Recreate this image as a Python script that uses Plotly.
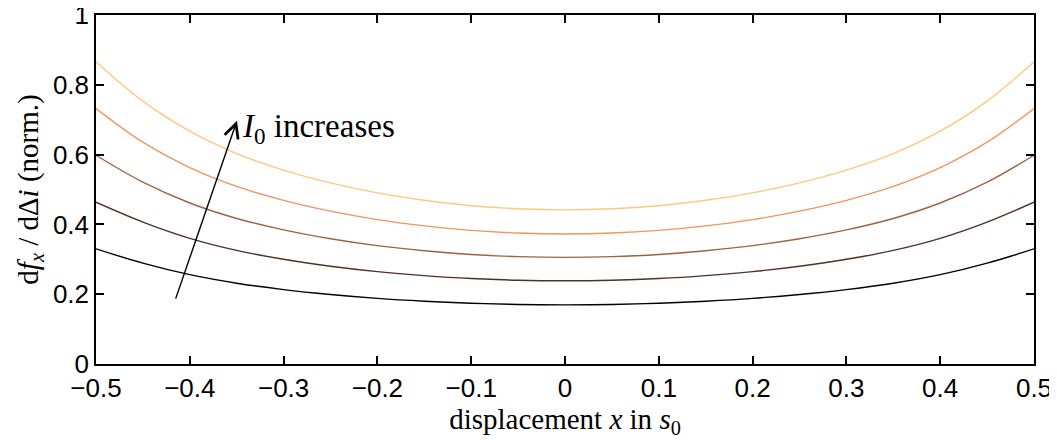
import plotly.graph_objects as go

x_vals = [-0.5, -0.45, -0.4, -0.35, -0.3, -0.25, -0.2, -0.15, -0.1, -0.05, 0.0,
          0.05, 0.1, 0.15, 0.2, 0.25, 0.3, 0.35, 0.4, 0.45, 0.5]

# right half values, x = 0, 0.05, ..., 0.5 (curves are symmetric about x = 0)
half_1 = [0.1695, 0.1707, 0.1741, 0.1800, 0.1881, 0.1992, 0.2132, 0.2314, 0.2559, 0.2890, 0.330]
half_2 = [0.2385, 0.2401, 0.2449, 0.2533, 0.2647, 0.2802, 0.3000, 0.3255, 0.3601, 0.4066, 0.4635]
half_3 = [0.3055, 0.3076, 0.3137, 0.3244, 0.3391, 0.3590, 0.3843, 0.4170, 0.4613, 0.5209, 0.598]
half_4 = [0.3727, 0.3752, 0.3828, 0.3958, 0.4137, 0.4379, 0.4689, 0.5087, 0.5628, 0.6355, 0.732]
half_5 = [0.4417, 0.4447, 0.4536, 0.4691, 0.4903, 0.5190, 0.5557, 0.6029, 0.6670, 0.7531, 0.866]

curve_1 = half_1[::-1] + half_1[1:]
curve_2 = half_2[::-1] + half_2[1:]
curve_3 = half_3[::-1] + half_3[1:]
curve_4 = half_4[::-1] + half_4[1:]
curve_5 = half_5[::-1] + half_5[1:]

series = [curve_1, curve_2, curve_3, curve_4, curve_5]
colors = ["#000000", "#503220", "#9f643f", "#ef955f", "#ffc77f"]

x_ticks = [-0.5, -0.4, -0.3, -0.2, -0.1, 0, 0.1, 0.2, 0.3, 0.4, 0.5]
y_ticks = [0, 0.2, 0.4, 0.6, 0.8, 1]

fig = go.Figure()
for ys, c in zip(series, colors):
    fig.add_trace(go.Scatter(x=x_vals, y=ys, mode="lines",
                             line=dict(color=c, width=1.4, shape="spline", smoothing=1.0),
                             showlegend=False, hoverinfo="skip"))

fig.add_annotation(x=-0.3497, y=0.697, ax=-0.4156, ay=0.183,
                   xref="x", yref="y", axref="x", ayref="y",
                   showarrow=True, arrowhead=5, arrowsize=2.0, arrowwidth=1.4,
                   arrowcolor="black", text="")
fig.add_annotation(x=-0.347, y=0.675, xref="x", yref="y", showarrow=False,
                   xanchor="left", yanchor="middle",
                   text="<i>I</i><sub>0</sub> increases",
                   font=dict(family="Liberation Serif", size=33, color="black"))

axis_common = dict(showline=True, linecolor="black", linewidth=1.5, mirror="ticks",
                   ticks="inside", ticklen=8, tickwidth=1.5, tickcolor="black",
                   showgrid=False, zeroline=False, automargin=False,
                   ticklabeloverflow="allow",
                   tickfont=dict(family="Liberation Sans", size=26, color="black"))

fig.update_xaxes(range=[-0.5, 0.5], tickvals=x_ticks,
                 title=dict(text="displacement <i>x</i> in <i>s</i><sub>0</sub>",
                            font=dict(family="Liberation Serif", size=29, color="black"),
                            standoff=2),
                 **axis_common)
fig.update_yaxes(range=[0, 1], tickvals=y_ticks,
                 title=dict(text="d<i>f</i><sub><i>x</i></sub> / dΔ<i>i</i> (norm.)",
                            font=dict(family="Liberation Serif", size=29, color="black"),
                            standoff=6),
                 **axis_common)

fig.update_layout(width=1057, height=440, plot_bgcolor="white", paper_bgcolor="white",
                  margin=dict(l=88, r=31, t=7, b=84))

fig.write_html("out.html")
